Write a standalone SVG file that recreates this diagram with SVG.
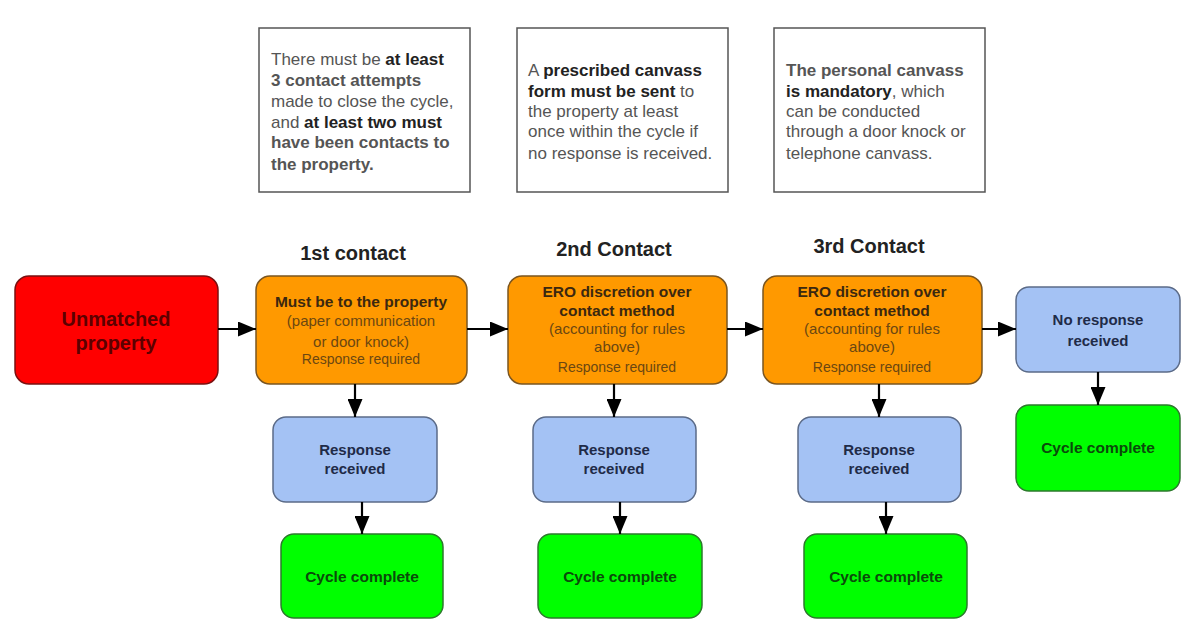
<svg xmlns="http://www.w3.org/2000/svg" width="1191" height="619" viewBox="0 0 1191 619">
<defs>
<marker id="ah" markerUnits="userSpaceOnUse" markerWidth="18" markerHeight="15" refX="18" refY="7.5" orient="auto">
<path d="M0,0 L18,7.5 L0,15 z" fill="#000"/>
</marker>
<style>
text{font-family:"Liberation Sans",Arial,sans-serif;}
.note rect{fill:#fff;stroke:#555;stroke-width:1.5;}
.note text{font-size:17px;fill:#555;}
.b{font-weight:bold;fill:#222;}
.hd{font-size:20px;font-weight:bold;fill:#222;text-anchor:middle;}
.red rect{fill:#ff0000;stroke:#7a1010;stroke-width:1.5;}
.red text{font-size:20px;font-weight:bold;fill:#5c0000;text-anchor:middle;}
.or rect{fill:#ff9900;stroke:#7a5520;stroke-width:1.5;}
.or text{text-anchor:middle;fill:#6b4712;font-size:15px;}
.or .ob{font-weight:bold;fill:#3b2810;font-size:15.5px;}
.or .rq{font-size:14px;}
.bl rect{fill:#a4c2f4;stroke:#5b6b88;stroke-width:1.5;}
.bl text{font-size:15px;font-weight:bold;fill:#1f2b48;text-anchor:middle;}
.gr rect{fill:#00ff00;stroke:#2c7a2c;stroke-width:1.5;}
.gr text{font-size:15.5px;font-weight:bold;fill:#0b4a0b;text-anchor:middle;}
.con line{stroke:#000;stroke-width:2.2;marker-end:url(#ah);}
</style>
</defs>
<rect width="1191" height="619" fill="#fff"/>

<g id="note1" class="note">
<rect x="259" y="28" width="211" height="164"/>
<text x="271" y="65">There must be <tspan class="b">at least</tspan></text>
<text x="271" y="86" class="b">3 contact attempts</text>
<text x="271" y="107">made to close the cycle,</text>
<text x="271" y="128">and <tspan class="b">at least two must</tspan></text>
<text x="271" y="148" class="b">have been contacts to</text>
<text x="271" y="170" class="b">the property.</text>
</g>
<g id="note2" class="note">
<rect x="517" y="28" width="211" height="164"/>
<text x="528" y="76">A <tspan class="b">prescribed canvass</tspan></text>
<text x="528" y="97"><tspan class="b">form must be sent</tspan> to</text>
<text x="528" y="117">the property at least</text>
<text x="528" y="137">once within the cycle if</text>
<text x="528" y="159">no response is received.</text>
</g>
<g id="note3" class="note">
<rect x="774" y="28" width="211" height="164"/>
<text x="786" y="76" class="b">The personal canvass</text>
<text x="786" y="97"><tspan class="b">is mandatory</tspan>, which</text>
<text x="786" y="117">can be conducted</text>
<text x="786" y="137">through a door knock or</text>
<text x="786" y="159">telephone canvass.</text>
</g>

<g id="headings">
<text class="hd" x="353" y="260">1st contact</text>
<text class="hd" x="614" y="256">2nd Contact</text>
<text class="hd" x="869" y="253">3rd Contact</text>
</g>

<g id="unmatched" class="red">
<rect x="15" y="276" width="203" height="108" rx="14"/>
<text x="116" y="326">Unmatched</text>
<text x="116" y="350">property</text>
</g>
<g id="contact1" class="or">
<rect x="256" y="276" width="211" height="108" rx="14"/>
<text class="ob" x="361" y="307">Must be to the property</text>
<text x="361" y="326">(paper communication</text>
<text x="361" y="347">or door knock)</text>
<text class="rq" x="361" y="364">Response required</text>
</g>
<g id="contact2" class="or">
<rect x="508" y="276" width="219" height="108" rx="14"/>
<text class="ob" x="617" y="297">ERO discretion over</text>
<text class="ob" x="617" y="316">contact method</text>
<text x="617" y="334">(accounting for rules</text>
<text x="617" y="352">above)</text>
<text class="rq" x="617" y="372">Response required</text>
</g>
<g id="contact3" class="or">
<rect x="763" y="276" width="219" height="108" rx="14"/>
<text class="ob" x="872" y="297">ERO discretion over</text>
<text class="ob" x="872" y="316">contact method</text>
<text x="872" y="334">(accounting for rules</text>
<text x="872" y="352">above)</text>
<text class="rq" x="872" y="372">Response required</text>
</g>
<g id="noresponse" class="bl">
<rect x="1016" y="287" width="164" height="85" rx="13"/>
<text x="1098" y="325">No response</text>
<text x="1098" y="346">received</text>
</g>
<g id="complete4" class="gr">
<rect x="1016" y="405" width="164" height="86" rx="13"/>
<text x="1098" y="453">Cycle complete</text>
</g>
<g id="response1" class="bl">
<rect x="273" y="417" width="164" height="85" rx="13"/>
<text x="355" y="455">Response</text>
<text x="355" y="474">received</text>
</g>
<g id="complete1" class="gr">
<rect x="281" y="534" width="162" height="84" rx="13"/>
<text x="362" y="582">Cycle complete</text>
</g>
<g id="response2" class="bl">
<rect x="533" y="417" width="163" height="85" rx="13"/>
<text x="614" y="455">Response</text>
<text x="614" y="474">received</text>
</g>
<g id="complete2" class="gr">
<rect x="538" y="534" width="164" height="84" rx="13"/>
<text x="620" y="582">Cycle complete</text>
</g>
<g id="response3" class="bl">
<rect x="798" y="417" width="163" height="85" rx="13"/>
<text x="879" y="455">Response</text>
<text x="879" y="474">received</text>
</g>
<g id="complete3" class="gr">
<rect x="804" y="534" width="163" height="84" rx="13"/>
<text x="886" y="582">Cycle complete</text>
</g>

<g id="connectors" class="con">
<line x1="218" y1="329" x2="256" y2="329"/>
<line x1="467" y1="329" x2="508" y2="329"/>
<line x1="727" y1="329" x2="763" y2="329"/>
<line x1="982" y1="329" x2="1016" y2="329"/>
<line x1="355" y1="384" x2="355" y2="417"/>
<line x1="362" y1="502" x2="362" y2="534"/>
<line x1="614" y1="384" x2="614" y2="417"/>
<line x1="620" y1="502" x2="620" y2="534"/>
<line x1="879" y1="384" x2="879" y2="417"/>
<line x1="886" y1="502" x2="886" y2="534"/>
<line x1="1098" y1="372" x2="1098" y2="405"/>
</g>
</svg>
